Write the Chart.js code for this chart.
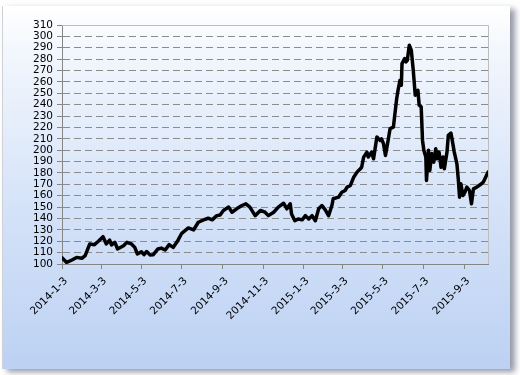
<!DOCTYPE html>
<html lang="zh">
<head>
  <meta charset="UTF-8" />
  <title>Index 2014-2015</title>
  <script src="https://cdn.jsdelivr.net/npm/chart.js"></script>
  <style>
    body {
      margin: 0;
      background: #ffffff;
      width: 520px;
      height: 375px;
      position: relative;
      overflow: hidden;
    }
    /* Excel-like chart frame: white to light blue, shadow on right/bottom */
    .frame {
      position: absolute;
      left: 2px;
      top: 6px;
      width: 507px;
      height: 363px;
      background: linear-gradient(to bottom, #ffffff 0%, #f3f7fd 12%, #d8e5f9 50%, #bcd1f3 100%);
      border-left: 1px solid #cfd3d8;
      box-shadow: 5px 3px 6px rgba(60, 70, 90, 0.55);
    }
    canvas {
      position: absolute;
      left: 0;
      top: 0;
    }
  </style>
</head>
<body>
  <div class="frame"></div>
  <canvas id="chart" width="520" height="375"></canvas>

  <script>
    const dates = [
      '2014-01-03','2014-01-10','2014-01-18','2014-01-25','2014-02-02','2014-02-07','2014-02-14','2014-02-21',
      '2014-02-27','2014-03-06','2014-03-11','2014-03-16','2014-03-19','2014-03-24','2014-03-28','2014-04-06',
      '2014-04-11','2014-04-18','2014-04-23','2014-04-27','2014-05-03','2014-05-07','2014-05-11','2014-05-16',
      '2014-05-21','2014-05-28','2014-06-02','2014-06-08','2014-06-14','2014-06-20','2014-06-27','2014-07-03',
      '2014-07-13','2014-07-21','2014-07-28','2014-08-05','2014-08-12','2014-08-18','2014-08-25','2014-08-30',
      '2014-09-04','2014-09-12','2014-09-17','2014-09-24','2014-10-02','2014-10-08','2014-10-14','2014-10-22',
      '2014-10-30','2014-11-06','2014-11-11','2014-11-19','2014-11-26','2014-12-04','2014-12-09','2014-12-14',
      '2014-12-16','2014-12-21','2014-12-26','2015-01-01','2015-01-06','2015-01-11','2015-01-16','2015-01-21',
      '2015-01-26','2015-01-31','2015-02-05','2015-02-10','2015-02-15','2015-02-17','2015-02-25','2015-03-02',
      '2015-03-07','2015-03-10','2015-03-15','2015-03-20','2015-03-25','2015-03-30','2015-04-01','2015-04-04',
      '2015-04-09','2015-04-11','2015-04-16','2015-04-19','2015-04-24','2015-04-29','2015-05-01','2015-05-04',
      '2015-05-07','2015-05-11','2015-05-14','2015-05-19','2015-05-21','2015-05-24','2015-05-26','2015-05-29',
      '2015-05-31','2015-06-01','2015-06-05','2015-06-07','2015-06-09','2015-06-12','2015-06-15','2015-06-18',
      '2015-06-21','2015-06-25','2015-06-27','2015-06-30','2015-07-02','2015-07-04','2015-07-07','2015-07-08',
      '2015-07-11','2015-07-13','2015-07-16','2015-07-19','2015-07-22','2015-07-24','2015-07-27','2015-07-30',
      '2015-08-02','2015-08-04','2015-08-08','2015-08-10','2015-08-14','2015-08-16','2015-08-19','2015-08-23',
      '2015-08-25','2015-08-27','2015-08-29','2015-09-01','2015-09-04','2015-09-07','2015-09-11','2015-09-14',
      '2015-09-17','2015-09-22','2015-09-27','2015-10-02','2015-10-09'
    ];
    const values = [
      105.5, 101.4, 103.5, 105.8, 105.0, 107.3, 117.6, 117.0,
      120.0, 124.0, 117.6, 121.0, 116.7, 119.0, 113.2, 116.0,
      119.0, 117.6, 114.6, 108.8, 110.8, 108.2, 111.0, 108.0,
      108.2, 113.2, 114.0, 112.3, 117.0, 114.6, 120.5, 127.0,
      131.7, 130.0, 136.7, 138.8, 140.2, 138.8, 142.5, 143.0,
      147.0, 150.0, 145.5, 148.5, 151.4, 152.9, 150.0, 142.5,
      147.0, 145.5, 142.5, 145.5, 150.0, 153.4, 148.5, 152.9,
      144.0, 138.0, 139.6, 138.8, 142.5, 139.6, 142.5, 138.0,
      148.5, 151.4, 147.6, 142.5, 151.4, 157.3, 158.7, 163.0,
      164.6, 167.5, 169.0, 176.3, 180.7, 183.7, 185.0, 193.9,
      198.3, 194.0, 198.3, 192.5, 211.5, 208.6, 210.0, 205.7,
      195.4, 208.6, 219.0, 220.3, 230.6, 245.4, 252.7, 261.5,
      257.0, 276.2, 280.6, 277.6, 279.0, 292.3, 288.0, 270.4,
      248.3, 252.7, 239.5, 238.0, 208.6, 200.0, 194.0, 173.4,
      200.0, 182.2, 197.0, 189.5, 201.3, 192.5, 198.3, 185.0,
      194.0, 183.7, 198.3, 213.0, 215.0, 208.6, 198.3, 188.0,
      175.0, 158.7, 170.5, 160.2, 163.0, 167.5, 164.6, 152.9,
      166.0, 167.5, 169.6, 172.0, 180.7
    ];
    const tickLabels = [
      '2014-1-3','2014-3-3','2014-5-3','2014-7-3','2014-9-3','2014-11-3',
      '2015-1-3','2015-3-3','2015-5-3','2015-7-3','2015-9-3'
    ];

    // days since the first date, so the x axis behaves like a date axis
    function dayOf(s) {
      const p = s.split('-').map(Number);
      const t0 = Date.UTC(2014, 0, 3);
      return Math.round((Date.UTC(p[0], p[1] - 1, p[2]) - t0) / 86400000);
    }

    const points = dates.map((d, i) => ({ x: dayOf(d), y: values[i] }));
    const font = { family: 'DejaVu Sans', size: 10.5 };

    // light gray frame on top/right of the plot area
    const plotBorder = {
      id: 'plotBorder',
      beforeDatasetsDraw(chart) {
        const a = chart.chartArea;
        const ctx = chart.ctx;
        ctx.save();
        ctx.strokeStyle = '#bdbdbd';
        ctx.lineWidth = 1;
        ctx.beginPath();
        ctx.moveTo(a.left, a.top + 0.5);
        ctx.lineTo(a.right + 0.5, a.top + 0.5);
        ctx.lineTo(a.right + 0.5, a.bottom);
        ctx.stroke();
        ctx.restore();
      }
    };

    new Chart(document.getElementById('chart'), {
      type: 'line',
      data: {
        datasets: [{
          data: points,
          borderColor: '#000000',
          borderWidth: 3.5,
          pointRadius: 0,
          tension: 0,
          borderJoinStyle: 'round',
          borderCapStyle: 'round'
        }]
      },
      options: {
        responsive: false,
        animation: false,
        layout: { padding: { top: 25, right: 32, bottom: 0, left: 0 } },
        plugins: { legend: { display: false }, tooltip: { enabled: false } },
        scales: {
          x: {
            type: 'linear',
            min: 0,
            max: dayOf(dates[dates.length - 1]),
            afterBuildTicks(scale) {
              scale.ticks = tickLabels.map(l => ({ value: dayOf(l) }));
            },
            afterFit(scale) { scale.height = 111; },
            ticks: {
              autoSkip: false,
              minRotation: 45,
              maxRotation: 45,
              padding: 6,
              labelOffset: 4,
              color: '#000000',
              font: font,
              callback: (v, i) => tickLabels[i]
            },
            grid: {
              drawOnChartArea: false,
              tickLength: 5,
              tickColor: '#868686',
              color: '#868686'
            },
            border: { color: '#868686', width: 1 }
          },
          y: {
            min: 100,
            max: 310,
            afterFit(scale) { scale.width = 62; },
            ticks: {
              stepSize: 10,
              autoSkip: false,
              padding: 4,
              color: '#000000',
              font: font
            },
            grid: {
              color: c => (c.tick.value === 100 || c.tick.value === 310) ? 'rgba(0,0,0,0)' : '#8c8c8c',
              tickColor: '#868686',
              tickLength: 5,
              lineWidth: 1
            },
            border: { color: '#868686', width: 1, dash: [7, 4] }
          }
        }
      },
      plugins: [plotBorder]
    });
  </script>
</body>
</html>
